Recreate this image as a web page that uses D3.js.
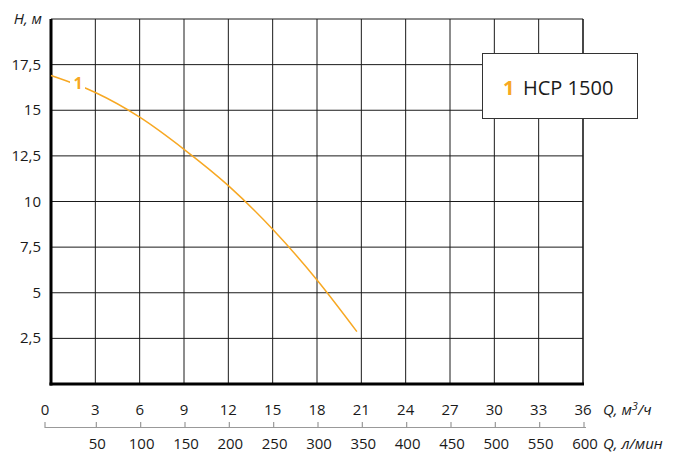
<!DOCTYPE html>
<html>
<head>
<meta charset="utf-8">
<script src="https://cdn.jsdelivr.net/npm/d3@7"></script>
<style>
    body { margin: 0; background: #fff; }
    svg text { font-family: "Open Sans", "Noto Sans", sans-serif; fill: #1a1a1a; }
</style>
</head>
<body>
<div id="chart"></div>
<script>
// pump curve 1 (Q in m3/h, H in m)
const flowQ = [0, 3, 6, 9, 12, 15, 18, 20.7];
const headH = [16.9, 15.97, 14.62, 12.86, 10.87, 8.48, 5.7, 2.87];
const curveNames = ["HCP 1500"];

const qTicks = [0, 3, 6, 9, 12, 15, 18, 21, 24, 27, 30, 33, 36];
const hTicks = [2.5, 5, 7.5, 10, 12.5, 15, 17.5];
const lminTicks = [0, 50, 100, 150, 200, 250, 300, 350, 400, 450, 500, 550, 600];

const width = 683, height = 452;
const orange = "#f7a823";

const svg = d3.select("#chart")
    .append("svg")
    .attr("width", width)
    .attr("height", height);

const x = d3.scaleLinear().domain([0, 36]).range([51, 583]);
const y = d3.scaleLinear().domain([0, 20]).range([384, 19]);
// l/min axis shares the same positions (600 l/min = 36 m3/h)
const xl = d3.scaleLinear().domain([0, 600]).range([51, 583]);

// Grid
const grid = svg.append("g");
grid.selectAll("line.v")
    .data(qTicks.slice(1))
    .join("line")
    .attr("x1", d => x(d)).attr("x2", d => x(d))
    .attr("y1", y(20)).attr("y2", y(0))
    .attr("stroke", "#1a1a1a")
    .attr("stroke-width", d => d === 36 ? 1.6 : 1);
grid.selectAll("line.h")
    .data(hTicks.concat([20]))
    .join("line")
    .attr("x1", x(0)).attr("x2", x(36))
    .attr("y1", d => y(d)).attr("y2", d => y(d))
    .attr("stroke", "#1a1a1a")
    .attr("stroke-width", 1);

// Thick left and bottom borders
svg.append("line")
    .attr("x1", x(0)).attr("x2", x(0))
    .attr("y1", y(20)).attr("y2", y(0) + 1.5)
    .attr("stroke", "#000").attr("stroke-width", 3);
svg.append("line")
    .attr("x1", x(0) - 1.5).attr("x2", x(36) + 1)
    .attr("y1", y(0)).attr("y2", y(0))
    .attr("stroke", "#000").attr("stroke-width", 3);

// Y tick labels
svg.selectAll("text.ylab")
    .data(hTicks)
    .join("text")
    .attr("x", 41)
    .attr("y", d => y(d) + 5)
    .attr("text-anchor", "end")
    .style("font-size", "15px")
    .text(d => String(d).replace(".", ","));

svg.append("text")
    .attr("x", 42).attr("y", 24)
    .attr("text-anchor", "end")
    .style("font-size", "15px")
    .style("font-style", "italic")
    .text("H, м");

// Top x labels (m3/h)
svg.selectAll("text.xlab")
    .data(qTicks)
    .join("text")
    .attr("x", d => x(d) + (d === 0 ? -6 : 0))
    .attr("y", 415)
    .attr("text-anchor", "middle")
    .style("font-size", "15px")
    .text(d => d);

const q1 = svg.append("text")
    .attr("x", 603).attr("y", 415)
    .style("font-size", "15px")
    .style("font-style", "italic");
q1.append("tspan").text("Q, м");
q1.append("tspan").attr("dy", -5).style("font-size", "11px").text("3");
q1.append("tspan").attr("dy", 5).text("/ч");

// Lower axis (l/min)
svg.append("line")
    .attr("x1", 45).attr("x2", xl(600) + 3)
    .attr("y1", 427.5).attr("y2", 427.5)
    .attr("stroke", "#999").attr("stroke-width", 1.2);
svg.selectAll("line.ltick")
    .data(lminTicks)
    .join("line")
    .attr("x1", d => d === 0 ? 45 : xl(d) + 1)
    .attr("x2", d => d === 0 ? 45 : xl(d) + 1)
    .attr("y1", 422).attr("y2", 428)
    .attr("stroke", "#999").attr("stroke-width", 1.2);
svg.selectAll("text.llab")
    .data(lminTicks.slice(1))
    .join("text")
    .attr("x", d => xl(d) + 2)
    .attr("y", 449)
    .attr("text-anchor", "middle")
    .style("font-size", "15px")
    .text(d => d);
svg.append("text")
    .attr("x", 603).attr("y", 449)
    .style("font-size", "15px")
    .style("font-style", "italic")
    .text("Q, л/мин");

// Curve
const pts = flowQ.map((q, i) => [q, headH[i]]);
const line = d3.line()
    .x(d => x(d[0]))
    .y(d => y(d[1]))
    .curve(d3.curveMonotoneX);
svg.append("path")
    .datum(pts)
    .attr("d", line)
    .attr("fill", "none")
    .attr("stroke", orange)
    .attr("stroke-width", 1.5);

// Curve label with white gap
svg.append("rect")
    .attr("x", 70).attr("y", 73)
    .attr("width", 15).attr("height", 20)
    .attr("fill", "#fff");
svg.append("text")
    .attr("x", 78).attr("y", 89)
    .attr("text-anchor", "middle")
    .style("font-size", "16px")
    .style("font-weight", "bold")
    .style("fill", orange)
    .text("1");

// Legend
const legend = svg.append("g");
legend.append("rect")
    .attr("x", 482.5).attr("y", 53.5)
    .attr("width", 155).attr("height", 65)
    .attr("fill", "#fff")
    .attr("stroke", "#333");
legend.append("text")
    .attr("x", 503).attr("y", 95)
    .style("font-size", "20px")
    .style("font-weight", "bold")
    .style("fill", orange)
    .text("1");
legend.append("text")
    .attr("x", 523).attr("y", 95)
    .style("font-size", "20px")
    .text(curveNames[0]);
</script>
</body>
</html>
